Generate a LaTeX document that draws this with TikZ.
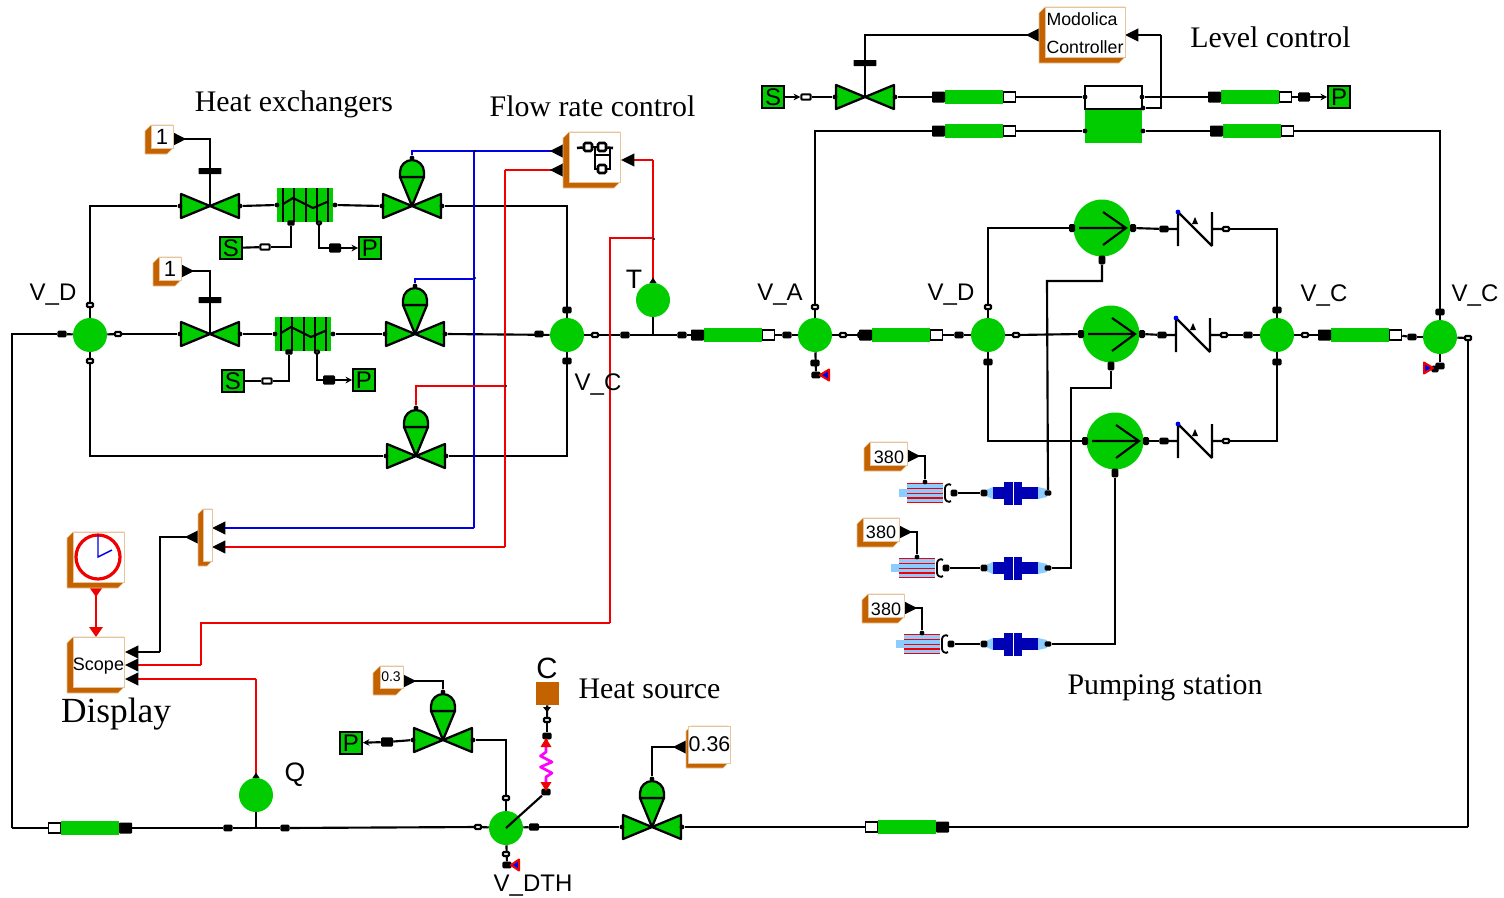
\documentclass[tikz,border=0pt]{standalone}
\usepackage{fontspec}
\setmainfont{Liberation Serif}
\setsansfont{Liberation Sans}
\usetikzlibrary{arrows.meta}
\pgfdeclarelayer{bg}
\pgfsetlayers{bg,main}
\definecolor{mgreen}{HTML}{00CC00}
\definecolor{morange}{HTML}{C46200}
\definecolor{mborder}{HTML}{E8C49C}
\definecolor{mdblue}{HTML}{0000B4}
\definecolor{mlblue}{HTML}{8CCCFF}
\definecolor{mred}{HTML}{F00000}
\definecolor{mblue}{HTML}{0000E6}
\definecolor{mmag}{HTML}{FF00FF}
\tikzset{
  wire/.style={draw=black,line width=1.6pt},
  redw/.style={draw=mred,line width=1.6pt},
  bluew/.style={draw=mblue,line width=1.6pt},
  tipin/.style={-{Triangle[color=black,length=10pt,width=9.5pt]}},
  tiprev/.style={-{Triangle[color=black,reversed,length=10pt,width=9.5pt]}},
  tipout/.style={{Triangle[color=black,reversed,length=10pt,width=9.5pt]}-},
  tipsens/.style={{Triangle[color=black,reversed,length=4pt,width=5pt]}-},
  tipsmall/.style={-{Stealth[length=5pt,width=5pt]}},
  junc/.style={circle,fill=mgreen,minimum size=25.5pt,inner sep=0pt},
  sens/.style={circle,fill=mgreen,minimum size=25.5pt,inner sep=0pt},
  portw/.style={rectangle,draw=black,fill=white,line width=1.6pt,minimum width=4.5pt,minimum height=3pt,inner sep=0pt,rounded corners=0.7pt},
  portb/.style={rectangle,fill=black,minimum width=7pt,minimum height=5pt,inner sep=0pt,rounded corners=1pt},
  dotn/.style={circle,fill=black,minimum size=3.6pt,inner sep=0pt},
  teedot/.style={circle,fill=black,minimum size=1.8pt,inner sep=0pt},
  pipeg/.style={rectangle,fill=mgreen,minimum width=43.5pt,minimum height=10.5pt,inner sep=0pt},
  pipeb/.style={rectangle,fill=black,minimum width=9.75pt,minimum height=8.25pt,inner sep=0pt,rounded corners=0.7pt},
  pipew/.style={rectangle,draw=black,fill=white,line width=1.2pt,minimum width=9pt,minimum height=7.5pt,inner sep=0pt},
  barn/.style={rectangle,fill=black,minimum width=17pt,minimum height=4.5pt,inner sep=0pt,rounded corners=0.4pt},
  term/.style={rectangle,draw=black,fill=mgreen,line width=1.2pt,minimum size=16.5pt,inner sep=0pt,font=\sffamily\fontsize{18}{18}\selectfont},
  svgtxt/.style={inner sep=0pt,font=\sffamily\fontsize{18}{18}\selectfont},
  serif/.style={inner sep=0pt,font=\rmfamily\fontsize{22.4}{24}\selectfont},
  trimark/.style={draw=mred,fill=mblue,line width=1.5pt,line join=round},
  vshape/.style={draw=black,fill=mgreen,line width=1.7pt,line join=round},
}
% valve: name, x, y
\newcommand{\mvalve}[3]{%
  \begin{scope}[shift={(#2,#3)}]
    \draw[vshape] (-29,-12) -- (0,0) -- (-29,12) -- cycle;
    \draw[vshape] (29,-12) -- (0,0) -- (29,12) -- cycle;
    \node[dotn] (#1-l) at (-30,0) {};
    \node[dotn] (#1-r) at (30,0) {};
    \coordinate (#1) at (0,0);
  \end{scope}}
% valve with diaphragm actuator
\newcommand{\dvalve}[3]{%
  \mvalve{#1}{#2}{#3}%
  \begin{scope}[shift={(#2,#3)}]
    \draw[vshape] (-12,-29) -- (0,0) -- (12,-29) -- cycle;
    \draw[vshape] (-12,-29) -- (-12,-34) .. controls (-12,-41) and (-6,-46) .. (0,-46) .. controls (6,-46) and (12,-41) .. (12,-34) -- (12,-29) -- cycle;
    \node[dotn] (#1-t) at (0,-48) {};
  \end{scope}}
% block: name x0 y0 x1 y1 d font text
\newcommand{\mblock}[8]{%
  \draw[draw=mborder,fill=morange,line width=0.5pt] (#2,#3+#6) -- (#2+#6,#3) -- (#4,#3) -- (#4,#5-#6) -- (#4-#6,#5) -- (#2,#5) -- cycle;
  \pgfmathsetmacro{\bw}{(#4-#2-#6)*0.75}%
  \pgfmathsetmacro{\bh}{(#5-#3-#6)*0.75}%
  \node[rectangle,draw=mborder,fill=white,line width=0.5pt,inner sep=0pt,minimum width=\bw pt,minimum height=\bh pt,font=#7] (#1) at ({(#2+#6+#4)/2},{(#3+#5-#6)/2}) {#8};}
% pipes
\newcommand{\pipeR}[3]{%
  \node[pipeg] (#1) at (#2+29,#3) {};
  \node[pipeb] (#1-l) at (#2-6.5,#3) {};
  \node[pipew] (#1-r) at (#2+64.5,#3) {};}
\newcommand{\pipeL}[3]{%
  \node[pipeg] (#1) at (#2+29,#3) {};
  \node[pipew] (#1-l) at (#2-6.5,#3) {};
  \node[pipeb] (#1-r) at (#2+64.5,#3) {};}
% heat exchanger: name x y (centre)
\newcommand{\hx}[3]{%
  \begin{scope}[shift={(#2,#3)}]
    \node[rectangle,fill=mgreen,minimum width=42pt,minimum height=26pt,inner sep=0pt] (#1) at (0,0) {};
    \foreach \xx in {-22,-11,1,12,23}{\draw[black,line width=1.6pt] (\xx,-17) -- (\xx,17);}
    \draw[black,line width=1.6pt,line join=round] (-22,-1) -- (-12,-7) -- (8,3) -- (22,-3);
    \node[dotn] (#1-l) at (-28,0) {};
    \node[dotn] (#1-r) at (30,0) {};
    \node[portb,minimum width=5.5pt,minimum height=4pt] (#1-a) at (-14,18) {};
    \node[portw,minimum width=3pt,minimum height=2pt] (#1-b) at (14,18) {};
  \end{scope}}
% pump: name x y
\newcommand{\mpump}[3]{%
  \begin{scope}[shift={(#2,#3)}]
    \node[circle,fill=mgreen,minimum size=42.75pt,inner sep=0pt] (#1) at (0,0) {};
    \draw[black,line width=1.6pt] (-23,0) -- (24,0) (1,-16) -- (24,0) -- (1,17);
    \node[portb,minimum width=4.5pt,minimum height=6pt] (#1-l) at (-30,0) {};
    \node[portb,minimum width=4.5pt,minimum height=6pt] (#1-r) at (31,0) {};
    \node[portb,minimum width=5pt,minimum height=6.5pt] (#1-b) at (0,32) {};
  \end{scope}}
% check valve: name x y
\newcommand{\mcheck}[3]{%
  \begin{scope}[shift={(#2,#3)}]
    \draw[black,line width=1.6pt] (-17,-17) -- (-17,17) (17,-17) -- (17,17) (-17,-17) -- (17,17) (-31,0) -- (-17,0) (17,0) -- (31,0);
    \fill[black] (0,-12) -- (3,-5) -- (-3,-5) -- cycle;
    \fill[mblue] (-17,-17) circle[radius=1.8pt];
    \node[portb] (#1-l) at (-31,0) {};
    \node[portw] (#1-r) at (31,0) {};
  \end{scope}}
% heater: name x y
\newcommand{\mheat}[3]{%
  \begin{scope}[shift={(#2,#3)}]
    \fill[mlblue] (-26,-4) rectangle (-18,4);
    \fill[mlblue] (-18,-10) rectangle (18,10);
    \foreach \yy in {-9.5,-4.5,0.5,5,9.5}{\draw[mred,line width=1.1pt] (-18,\yy) -- (18,\yy);}
    \draw[black,line width=1.4pt] (26,-8) .. controls (24,-10) and (20,-8) .. (20,-5) -- (20,5) .. controls (20,8) and (24,10) .. (26,8);
    \node[portb,minimum width=5pt] (#1-r) at (29,0) {};
    \node[dotn] (#1-t) at (0,-11) {};
  \end{scope}}
% motor: name x y
\newcommand{\mmotor}[3]{%
  \begin{scope}[shift={(#2,#3)}]
    \fill[mlblue] (-27,-3.5) -- (-21,-6) -- (-21,6) -- (-27,3.5) -- cycle;
    \fill[mlblue] (24,-6) -- (33,-4) -- (33,4) -- (24,6) -- cycle;
    \fill[mdblue] (-21,-6) rectangle (-10,6);
    \fill[mdblue] (-10,-11.5) rectangle (-1,11.5);
    \fill[mdblue] (0,-11.5) rectangle (8,11.5);
    \fill[mdblue] (8,-6) rectangle (24,6);
    \node[coordinate] (#1) at (0,0) {};
    \node[portb,minimum width=5pt] (#1-l) at (-30,0) {};
    \node[portb,minimum width=5pt,minimum height=4pt] (#1-r) at (34,0) {};
  \end{scope}}
\begin{document}
\begin{tikzpicture}[x=0.75pt,y=-0.75pt]
\useasboundingbox (0,0) rectangle (1504,897);
%--------- heat exchanger section
\node[junc] (j1) at (90,335) {};
\node[portw] (p1t) at (90,305) {};
\node[portw] (p1b) at (90,361) {};
\node[portb] (p1l) at (62,334) {};
\node[portw] (p1r) at (118,334) {};
\mvalve{v1}{210}{206}
\mvalve{v2}{210}{334}
\hx{hx1}{305}{205}
\hx{hx2}{303}{334}
\dvalve{d1}{412}{206}
\dvalve{d2}{415}{334}
\dvalve{d3}{416}{456}
\node[barn] (b1) at (210,171) {};
\node[barn] (b2) at (210,300) {};
\mblock{one1}{145}{125}{173}{154}{6}{\sffamily\fontsize{16.5}{16.5}\selectfont}{1}
\mblock{one2}{153}{257}{181}{286}{6}{\sffamily\fontsize{16.5}{16.5}\selectfont}{1}
\node[coordinate] (one1-o) at (173,139) {};
\node[coordinate] (one2-o) at (181,271) {};
\node[term] (s1) at (231,248) {S};
\node[term] (s2) at (233,381) {S};
\node[term] (pp1) at (370,248) {P};
\node[term] (pp2) at (364,380) {P};
\node[portw,minimum width=7pt,minimum height=4pt] (p2) at (265,247) {};
\node[portw,minimum width=7pt,minimum height=4pt] (p3) at (267,381) {};
\node[portb,minimum width=9pt,minimum height=7pt] (p4) at (335,248) {};
\node[portb,minimum width=9pt,minimum height=7pt] (p5) at (329,380) {};
\node[junc] (j2) at (567,335) {};
\node[portb] (p2t) at (567,310) {};
\node[portb] (p2b) at (567,361) {};
\node[portb] (p2l) at (539,334) {};
\node[portw] (p2r) at (595,335) {};
\node[portb] (p2s) at (625,335) {};
\node[portb] (p2u) at (682,335) {};
\mblock{ctl}{563}{132}{620}{188}{6}{\sffamily}{}
\node[rectangle,draw=black,line width=1.9pt,minimum width=6pt,minimum height=6pt,inner sep=0pt,rounded corners=1pt] (i1) at (588,147) {};
\node[rectangle,draw=black,line width=1.9pt,minimum width=6pt,minimum height=6pt,inner sep=0pt,rounded corners=1pt] (i2) at (602,147) {};
\node[rectangle,draw=black,line width=1.9pt,minimum width=6pt,minimum height=6pt,inner sep=0pt,rounded corners=1pt] (i3) at (602,169) {};
\coordinate (i4) at (577,148);
\coordinate (i5) at (613,148);
\coordinate (i6) at (595,148);
\coordinate (i7) at (610,148);
\coordinate (i8) at (595,155);
\coordinate (i9) at (610,155);
\draw[wire,line width=1.9pt] (i4) -- (i1);
\draw[wire,line width=1.9pt] (i1) -- (i2);
\draw[wire,line width=1.9pt] (i2) -- (i5);
\draw[wire,line width=1.9pt] (i6) |- (i3);
\draw[wire,line width=1.9pt] (i3) -| (i7);
\draw[wire,line width=1.9pt] (i8) -- (i9);
\node[sens] (st) at (653,300) {};
\node[coordinate] (st-top) at (653,283) {};
\node[coordinate] (tee) at (653,335) {};
\node[coordinate] (ctl-r) at (621,160) {};
\node[coordinate] (ctl-a) at (563,151) {};
\node[coordinate] (ctl-b) at (563,170) {};
\node[coordinate] (t2) at (653,238) {};
\node[coordinate] (t3) at (474,151) {};
\node[coordinate] (t4) at (474,279) {};
\node[coordinate] (t5) at (505,386) {};
\node[coordinate] (t6) at (505,170) {};
\node[teedot] (td2) at (654,239) {};
\node[teedot] (td3) at (475,151) {};
\node[teedot] (td4) at (475,278) {};
\node[teedot] (td5) at (506,386) {};
\node[coordinate] (mx-a) at (212,528) {};
\node[coordinate] (mx-b) at (212,547) {};
\node[coordinate] (mx-c) at (198,537) {};
\mblock{mux}{198}{509}{212}{566}{5}{\sffamily}{}
%--------- display
\mblock{clk}{67}{532}{124}{588}{6}{\sffamily}{}
\node[circle,draw=mred,fill=white,line width=2.4pt,minimum size=33pt,inner sep=0pt] (clkf) at (98,557) {};
\node[coordinate] (ch1) at (98,535) {};
\node[coordinate] (ch2) at (112,550) {};
\draw[draw=mblue,line width=1.1pt] (ch1) -- (clkf.center) -- (ch2);
\mblock{scope}{67}{637}{124}{693}{6}{\sffamily}{}
\node[svgtxt,font=\sffamily\fontsize{13.5}{13.5}\selectfont] (scopet) at (98.5,666) {Scope};
\node[coordinate] (clk-o) at (96,587) {};
\node[coordinate] (sc-t) at (96,637) {};
\node[coordinate] (sc-a) at (125,652) {};
\node[coordinate] (sc-b) at (125,665) {};
\node[coordinate] (sc-c) at (125,679) {};
\node[coordinate] (bd1) at (160,652) {};
\node[coordinate] (bd2) at (610,623) {};
\node[coordinate] (bd3) at (201,665) {};
%--------- Level control
\node[term] (s3) at (773,97) {S};
\node[term] (pp3) at (1339,97) {P};
\node[portw,minimum width=7pt,minimum height=4pt] (p6) at (806,97) {};
\mvalve{v3}{865}{97}
\node[barn] (b3) at (865,63) {};
\pipeR{pt1}{945}{97}
\pipeR{pt2}{1221}{97}
\pipeR{pt3}{945}{131}
\pipeR{pt4}{1223}{131}
\node[portb,minimum width=9pt,minimum height=7pt] (p7) at (1304,97) {};
\node[rectangle,draw=black,fill=white,line width=1.5pt,minimum width=42.75pt,minimum height=17pt,inner sep=0pt] (tk1) at (1113.5,97.5) {};
\node[rectangle,fill=mgreen,minimum width=42.75pt,minimum height=25pt,inner sep=0pt] (tk2) at (1113.5,126.5) {};
\node[dotn] (tk1l) at (1085,97) {};
\node[dotn] (tk1r) at (1142,97) {};
\node[dotn] (tk1c) at (1143,108) {};
\node[dotn] (tk2l) at (1085,131) {};
\node[dotn] (tk2r) at (1143,131) {};
\mblock{mc}{1039}{7}{1125}{63}{6}{\sffamily}{}
\node[svgtxt,font=\sffamily\fontsize{13.3}{13.3}\selectfont] (mc1) at (1082,19) {Modolica};
\node[svgtxt,font=\sffamily\fontsize{13.3}{13.3}\selectfont] (mc2) at (1085,47) {Controller};
\node[coordinate] (mc-l) at (1039,35) {};
\node[coordinate] (mc-r) at (1125,35) {};
\node[coordinate] (bt1) at (1161,35) {};
%--------- main line
\pipeR{pa}{704}{335}
\node[junc] (j3) at (815,335) {};
\node[portw] (p3t) at (815,307) {};
\node[portb] (p3b) at (815,363) {};
\node[portb] (p3c) at (816,375) {};
\node[portb] (p3l) at (787,335) {};
\node[portw] (p3r) at (843,335) {};
\node[portb] (p3s) at (862,335) {};
\pipeR{pb}{872}{335}
\node[portb] (p4l) at (959,335) {};
\node[junc] (j4) at (988,335) {};
\node[portw] (p4t) at (988,307) {};
\node[portb] (p4b) at (988,362) {};
\node[portw] (p4r) at (1016,335) {};
\mpump{m1}{1102}{228}
\mpump{m2}{1111}{334}
\mpump{m3}{1115}{441}
\mcheck{c1}{1195}{229}
\mcheck{c2}{1193}{335}
\mcheck{c3}{1195}{441}
\node[junc] (j5) at (1277,335) {};
\node[portb] (p5t) at (1277,310) {};
\node[portb] (p5b) at (1277,362) {};
\node[portb] (p5l) at (1248,335) {};
\node[portw] (p5r) at (1305,335) {};
\pipeR{pc}{1331}{335}
\node[portb] (p6l) at (1412,337) {};
\node[junc] (j6) at (1440,337) {};
\node[portb] (p6t) at (1440,312) {};
\node[portb] (p6b) at (1440,366) {};
\node[portb,minimum width=5.5pt] (p6c) at (1435,369) {};
\node[portw] (p6r) at (1468,338) {};
%--------- pumping station
\mblock{k1}{864}{442}{907}{471}{6}{\sffamily}{}
\mblock{k2}{857}{518}{899}{547}{6}{\sffamily}{}
\mblock{k3}{862}{594}{904}{623}{6}{\sffamily}{}
\node[svgtxt,font=\sffamily\fontsize{13.5}{13.5}\selectfont] (k1t) at (889,457) {380};
\node[svgtxt,font=\sffamily\fontsize{13.5}{13.5}\selectfont] (k2t) at (881,532) {380};
\node[svgtxt,font=\sffamily\fontsize{13.5}{13.5}\selectfont] (k3t) at (886,609) {380};
\node[coordinate] (k1-o) at (907,456) {};
\node[coordinate] (k2-o) at (899,532) {};
\node[coordinate] (k3-o) at (904,608) {};
\mheat{h1}{925}{493}
\mheat{h2}{917}{568}
\mheat{h3}{922}{644}
\mmotor{e1}{1014}{493}
\mmotor{e2}{1014}{568}
\mmotor{e3}{1014}{644}
%--------- bottom
\pipeL{pd}{61}{828}
\node[portb] (q1) at (228,828) {};
\node[portb] (q2) at (285,828) {};
\node[sens] (sq) at (256,795) {};
\node[coordinate] (sq-top) at (256,778) {};
\node[coordinate] (qtee) at (256,828) {};
\node[portw] (q3) at (478,827) {};
\node[junc] (j7) at (506,828) {};
\node[portw] (j7t) at (506,798) {};
\node[portw] (j7b) at (506,854) {};
\node[portb] (j7c) at (507,865) {};
\node[portb,minimum width=7.5pt,minimum height=5.5pt] (j7r) at (534,827) {};
\dvalve{d4}{443}{740}
\dvalve{d5}{652}{827}
\mblock{k4}{373}{666}{403}{695}{7}{\sffamily}{}
\node[svgtxt,font=\sffamily\fontsize{10.5}{10.5}\selectfont] (k4t) at (391,677) {0.3};
\node[coordinate] (k4-o) at (403,681) {};
\mblock{k5}{686}{726}{728}{768}{5}{\sffamily\fontsize{16}{16}\selectfont}{0.36}
\node[coordinate] (k5-o) at (686,747) {};
\node[term] (pp4) at (351,743) {P};
\node[portb,minimum width=9pt,minimum height=7pt] (p8) at (387,742) {};
\node[rectangle,fill=morange,minimum size=17.25pt,inner sep=0pt] (hs) at (547.5,693.5) {};
\node[portw] (hs1) at (547,720) {};
\node[portb] (hs2) at (547,736) {};
\node[portb] (hs3) at (546,792) {};
\node[coordinate] (zz1) at (546,744) {};
\node[coordinate] (zz2) at (546,784) {};
\pipeL{pe}{878}{827}
\node[coordinate] (cb1) at (12,828) {};
\node[coordinate] (cb2) at (1468,827) {};
\node[coordinate] (cb3) at (1468,338) {};
\draw[draw=mmag,line width=2pt,line join=round] (546,746) -- (546,752) -- (540.5,756) -- (552,762) -- (540.5,767) -- (552,773) -- (546,777) -- (546,782);
\fill[mred] (546,738) -- (551.5,747) -- (540.5,747) -- cycle;
\fill[mred] (546,791) -- (551.5,782) -- (540.5,782) -- cycle;
\fill[black] (547,712) -- (543,707) -- (551,707) -- cycle;
\draw[trimark] (511,865) -- (519,859.5) -- (519,870.5) -- cycle;
\draw[trimark] (820,375) -- (829,369.5) -- (829,380.5) -- cycle;
\draw[trimark] (1433,368) -- (1424,362.5) -- (1424,373.5) -- cycle;
%--------- wires drawn over the symbols
\draw[wire] (b1) -- (v1);
\draw[wire] (b2) -- (v2);
\draw[wire] (b3) -- (v3);
\draw[wire] (j7.center) -- (hs3);
%--------- wires behind the symbols
\begin{pgfonlayer}{bg}
\draw[wire] (cb1) |- (p1l);
\draw[wire] (cb1) -- (pd-l);
\draw[wire] (p1l) -- (j1);
\draw[wire] (j1) -- (p1r);
\draw[wire] (j1) |- (v1-l);
\draw[wire] (p1r) -- (v2-l);
\draw[wire] (j1) |- (d3-l);
\draw[wire] (v1-r) -- (hx1-l);
\draw[wire] (hx1-r) -- (d1-l);
\draw[wire] (v2-r) -- (hx2-l);
\draw[wire] (hx2-r) -- (d2-l);
\draw[wire] (d1-r) -| (j2);
\draw[wire] (d3-r) -| (j2);
\draw[wire] (d2-r) -- (j2);
\draw[wire] (s1) -- (p2);
\draw[wire] (p2) -| (hx1-a);
\draw[wire,tipsmall] (p4) -- (pp1);
\draw[wire] (hx1-b) |- (p4);
\draw[wire] (s2) -- (p3);
\draw[wire] (p3) -| (hx2-a);
\draw[wire] (hx2-b) |- (p5);
\draw[wire,tipsmall] (p5) -- (pp2);
\draw[wire,tipout] (one1-o) -| (b1);
\draw[wire,tipout] (one2-o) -| (b2);
\draw[wire] (j2) -- (p2r);
\draw[wire] (p2r) -- (p2s);
\draw[wire] (p2s) -- (p2u);
\draw[wire] (p2u) -- (pa-l);
\draw[wire] (tee) -- (st);
\draw[wire] (pa-r) -- (p3l);
\draw[wire] (p3l) -- (j3);
\draw[wire] (j3) -- (p3r);
\draw[wire] (p3r) -- (p3s);
\draw[wire] (p3s) -- (pb-l);
\draw[wire] (pb-r) -- (p4l);
\draw[wire] (p4l) -- (j4);
\draw[wire] (j4) -- (p4r);
\draw[wire] (p4r) -- (m2-l);
\draw[wire] (j4) |- (m1-l);
\draw[wire] (j4) |- (m3-l);
\draw[wire] (m1-r) -- (c1-l);
\draw[wire] (m2-r) -- (c2-l);
\draw[wire] (m3-r) -- (c3-l);
\draw[wire] (c1-r) -| (j5);
\draw[wire] (c3-r) -| (j5);
\draw[wire] (c2-r) -- (p5l);
\draw[wire] (p5l) -- (j5);
\draw[wire] (j5) -- (p5r);
\draw[wire] (p5r) -- (pc-l);
\draw[wire] (pc-r) -- (p6l);
\draw[wire] (p6l) -- (j6);
\draw[wire] (j6) -- (p6r);
\draw[wire] (j6) -- (p6b);
\draw[wire] (p6r) -- (cb3);
\draw[wire] (cb3) -- (cb2);
\draw[wire] (cb2) -- (pe-r);
\draw[wire] (j3) |- (pt3-l);
\draw[wire] (j3) -- (p3c);
\draw[wire] (pt3-r) -- (tk2l);
\draw[wire] (tk2r) -- (pt4-l);
\draw[wire] (pt4-r) -| (j6);
\draw[wire,tipsmall] (s3) -- (p6);
\draw[wire] (p6) -- (v3-l);
\draw[wire] (v3-r) -- (pt1-l);
\draw[wire] (pt1-r) -- (tk1l);
\draw[wire] (tk1r) -- (pt2-l);
\draw[wire] (pt2-r) -- (p7);
\draw[wire,tipsmall] (p7) -- (pp3);
\draw[wire,tipout] (mc-l) -| (b3);
\draw[wire,tipin] (bt1) -- (mc-r);
\draw[wire] (tk1c) -| (bt1);
\draw[wire] (pd-r) -- (q1);
\draw[wire] (q1) -- (q2);
\draw[wire] (q2) -- (q3);
\draw[wire] (q3) -- (j7);
\draw[wire] (qtee) -- (sq);
\draw[wire] (j7) -- (j7r);
\draw[wire] (j7r) -- (d5-l);
\draw[wire] (d5-r) -- (pe-l);
\draw[wire] (j7) -- (j7c);
\draw[wire] (d4-r) -| (j7);
\draw[wire] (d4-l) -- (p8);
\draw[wire,tipsmall] (p8) -- (pp4);
\draw[wire,tipout] (k4-o) -| (d4-t);
\draw[wire,tipout] (k5-o) -| (d5-t);
\draw[wire] (hs) -- (hs1);
\draw[wire] (hs1) -- (hs2);
\draw[wire] (hs2) -- (zz1);
\draw[wire] (zz2) -- (hs3);
\draw[wire,tipout] (k1-o) -| (h1-t);
\draw[wire,tipout] (k2-o) -| (h2-t);
\draw[wire,tipout] (k3-o) -| (h3-t);
\draw[wire] (h1-r) -- (e1-l);
\draw[wire] (h2-r) -- (e2-l);
\draw[wire] (h3-r) -- (e3-l);
\node[coordinate] (n1) at (1047,281) {};
\node[coordinate] (n2) at (1071,388) {};
\draw[wire] (e1-r) -- (n1) -| (m1-b);
\draw[wire] (e2-r) -| (n2) -| (m2-b);
\draw[wire] (e3-r) -| (m3-b);
\draw[wire,tipout] (mx-c) -| (bd1);
\draw[wire,tipin] (bd1) -- (sc-a);
% signals
\draw[bluew] (d1-t) |- (t3);
\draw[bluew,tiprev] (t3) -- (ctl-a);
\draw[bluew] (d2-t) |- (t4);
\draw[bluew] (t3) -- (t4);
\node[coordinate] (t7) at (474,528) {};
\draw[bluew] (t4) -- (t7);
\draw[bluew,tipin] (t7) -- (mx-a);
\draw[redw] (d3-t) |- (t5);
\draw[redw,tiprev] (t6) -- (ctl-b);
\draw[redw] (t6) -- (t5);
\node[coordinate] (t8) at (505,547) {};
\draw[redw] (t5) -- (t8);
\draw[redw,tipin] (t8) -- (mx-b);
\node[coordinate] (t9) at (653,160) {};
\draw[redw,tipsens] (st-top) -- (t9);
\draw[redw,tipin] (t9) -- (ctl-r);
\draw[redw] (t2) -| (bd2);
\draw[redw] (bd2) -| (bd3);
\draw[redw,tipin] (bd3) -- (sc-b);
\node[coordinate] (t10) at (256,679) {};
\draw[redw,tipsens] (sq-top) -- (t10);
\draw[redw,tipin] (t10) -- (sc-c);
\draw[redw,{Triangle[color=mred,reversed,length=7.5pt,width=10pt]}-{Triangle[color=mred,length=7.5pt,width=10pt]}] (clk-o) -- (sc-t);
\end{pgfonlayer}
%--------- labels
\node[serif] (l1) at (294,104) {Heat exchangers};
\node[serif] (l2) at (592.5,106) {Flow rate control};
\node[serif] (l3) at (1270.5,37) {Level control};
\node[serif] (l4) at (1165,688) {Pumping station};
\node[serif] (l5) at (649.5,689) {Heat source};
\node[serif,font=\rmfamily\fontsize{26.5}{28}\selectfont] (l6) at (116,714) {Display};
\node[svgtxt] (a1) at (53,295) {V\_D};
\node[svgtxt] (a2) at (598,384) {V\_C};
\node[svgtxt] (a3) at (780,295) {V\_A};
\node[svgtxt] (a4) at (951,295) {V\_D};
\node[svgtxt] (a5) at (1324,295) {V\_C};
\node[svgtxt] (a6) at (1475,295) {V\_C};
\node[svgtxt] (a7) at (533,886) {V\_DTH};
\node[svgtxt,font=\sffamily\fontsize{20}{20}\selectfont] (a8) at (634,279) {T};
\node[svgtxt,font=\sffamily\fontsize{20}{20}\selectfont] (a9) at (295,775) {Q};
\node[svgtxt,font=\sffamily\fontsize{22}{22}\selectfont] (a10) at (547,668) {C};
\end{tikzpicture}
\end{document}
